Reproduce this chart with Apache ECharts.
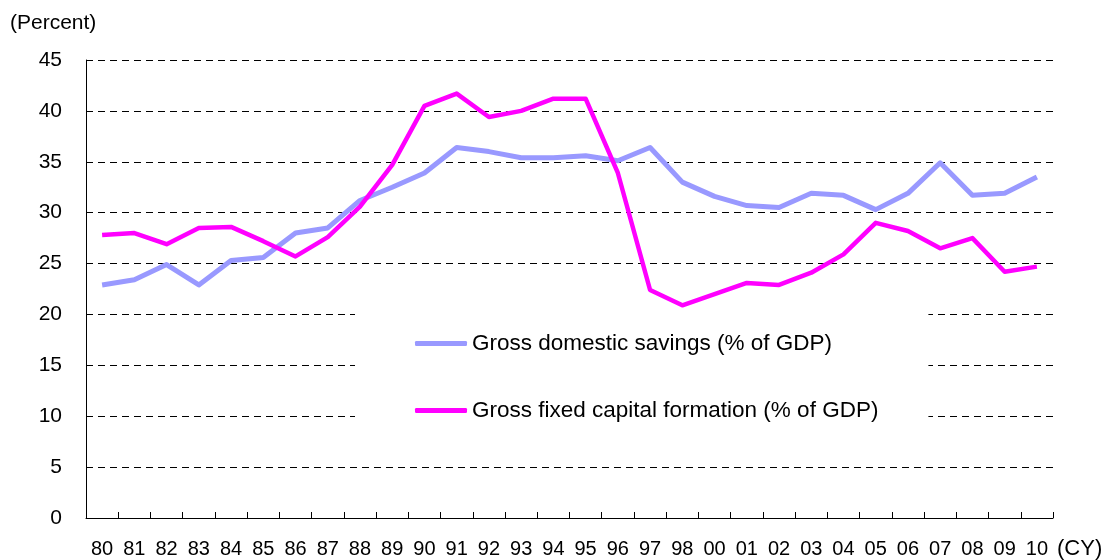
<!DOCTYPE html>
<html>
<head>
<meta charset="utf-8">
<script src="https://cdn.jsdelivr.net/npm/echarts@6/dist/echarts.min.js"></script>
<style>
html,body{margin:0;padding:0;background:#fff;}
#chart{width:1106px;height:560px;}
</style>
</head>
<body>
<div id="chart"></div>
<script>
var years = ['80','81','82','83','84','85','86','87','88','89','90','91','92','93','94','95','96','97','98','00','01','02','03','04','05','06','07','08','09','10'];
var savings = [22.9,23.4,24.9,22.9,25.3,25.6,28.0,28.5,31.2,32.5,33.9,36.4,36.0,35.4,35.4,35.6,35.1,36.4,33.0,31.6,30.7,30.5,31.9,31.7,30.3,31.9,34.9,31.7,31.9,33.5];
var gfcf = [27.8,28.0,26.9,28.5,28.6,27.2,25.7,27.6,30.6,34.7,40.5,41.7,39.4,40.0,41.2,41.2,33.9,22.4,20.9,22.0,23.1,22.9,24.1,25.9,29.0,28.2,26.5,27.5,24.2,24.7];
var seriesNames = ['Gross domestic savings (% of GDP)','Gross fixed capital formation (% of GDP)'];
var yUnit = '(Percent)';
var xUnit = '(CY)';

var FONT = "'Liberation Sans', Arial, sans-serif";
var chart = echarts.init(document.getElementById('chart'), null, {renderer:'canvas'});
chart.setOption({
  animation: false,
  backgroundColor: '#fff',
  grid: {left: 86, right: 53, top: 60, bottom: 42},
  xAxis: {
    type: 'category',
    data: years,
    boundaryGap: true,
    axisLine: {lineStyle: {color: '#000', width: 1}},
    axisTick: {show: true, inside: true, length: 6, lineStyle: {color: '#000'}},
    axisLabel: {interval: 0, color: '#000', fontSize: 20, fontFamily: FONT, margin: 21}
  },
  yAxis: {
    type: 'value',
    min: 0, max: 45, interval: 5,
    axisLine: {show: true, lineStyle: {color: '#000', width: 1}},
    axisTick: {show: false},
    axisLabel: {color: '#000', fontSize: 21, fontFamily: FONT, margin: 24},
    splitLine: {show: true, lineStyle: {color: '#000', type: [7, 5], width: 1}}
  },
  legend: {
    orient: 'vertical',
    left: 355, top: 310,
    z: 1,
    backgroundColor: '#fff',
    padding: [22, 50, 20, 60],
    itemGap: 44,
    itemWidth: 52, itemHeight: 5,
    icon: 'roundRect',
    selectedMode: false,
    textStyle: {color: '#000', fontSize: 22.5, fontFamily: FONT},
    data: seriesNames
  },
  graphic: [
    {type: 'text', left: 10, top: 13, style: {text: yUnit, fill: '#000', font: '21px ' + FONT}},
    {type: 'text', left: 1057, top: 538, style: {text: xUnit, fill: '#000', font: '22px ' + FONT}}
  ],
  series: [
    {name: seriesNames[0], type: 'line', data: savings, symbol: 'none', z: 2,
     lineStyle: {color: '#9999FF', width: 5, join: 'round'}, itemStyle: {color: '#9999FF'}},
    {name: seriesNames[1], type: 'line', data: gfcf, symbol: 'none', z: 3,
     lineStyle: {color: '#FF00FF', width: 4.5, join: 'round'}, itemStyle: {color: '#FF00FF'}}
  ]
});
</script>
</body>
</html>
